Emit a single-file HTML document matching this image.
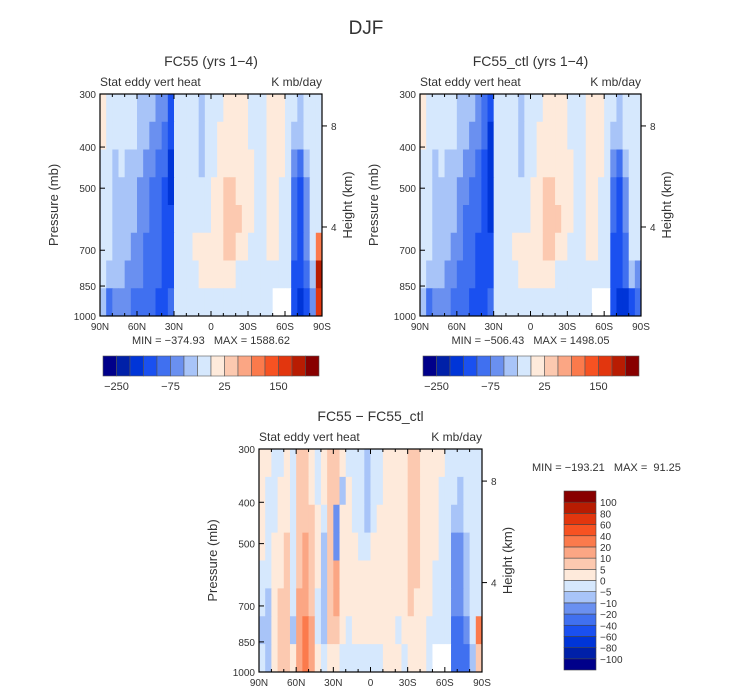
<!DOCTYPE html>
<html><head><meta charset="utf-8"><style>
body{margin:0;background:#fff;}
svg{display:block;font-family:"Liberation Sans",sans-serif;}
text{fill:#333;white-space:pre;}
</style></head><body>
<svg id="fig" width="733" height="695" viewBox="0 0 733 695">
<text x="366" y="34" font-size="19" text-anchor="middle" fill="#555">DJF</text>
</svg>
<script>
const latLabels=["90N","60N","30N","0","30S","60S","90S"];
const pTicks=[300,400,500,700,850,1000];
const hTicks=[8,4];
const topLevels=[-250,-200,-150,-100,-75,-50,-25,0,25,50,75,100,150,200,250];
const diffLevels=[-100,-80,-60,-40,-20,-10,-5,0,5,10,20,40,60,80,100];
const colors=['#00008a','#0020a8','#0035d8','#1a50f0','#4070f0','#6a90f0','#a8c4f8','#d6e8fd','#feeadb','#fcc9b0','#fba684','#fb7a4c','#f75222','#e2360e','#b81c02','#880000'];
const N=null;
const fc55=[
[10,-10,-10,-10,-10,-10,-30,-30,-30,-60,-60,-120,-10,-10,-10,-10,-30,-10,-10,-10,10,10,10,10,-10,-10,-10,10,10,10,-10,-10,-30,-10,-10,-10],
[10,-10,-10,-10,-10,-10,-30,-30,-60,-60,-80,-150,-10,-10,-10,-10,-30,-10,-10,10,10,10,10,10,-10,-10,-10,10,10,10,-10,-30,-30,-10,-10,-10],
[-10,-10,-30,-10,-30,-30,-30,-60,-60,-80,-100,-200,-10,-10,-10,-10,-30,-10,-10,10,10,10,10,10,10,-10,-10,10,10,10,-10,-60,-80,-30,-10,-10],
[-10,-10,-30,-30,-30,-30,-60,-60,-80,-80,-120,-200,-10,-10,-10,-10,-10,-10,10,10,30,30,10,10,10,-10,-10,10,10,-10,-10,-80,-120,-60,-10,-10],
[-10,-10,-30,-30,-30,-30,-60,-60,-80,-100,-120,-150,-10,-10,-10,-10,-10,-10,10,10,30,30,30,10,10,-10,-10,10,10,-10,-10,-100,-120,-60,-10,-10],
[-10,-10,-30,-30,-30,-60,-60,-80,-80,-100,-120,-120,-10,-10,-10,10,10,10,10,10,30,30,10,10,-10,-10,-10,10,10,-10,-10,-100,-150,-60,-10,80],
[-10,-30,-30,-30,-60,-60,-60,-80,-100,-100,-150,-120,-10,-10,-10,-10,10,10,10,10,10,10,-10,-10,-10,-10,-10,-10,-10,-10,-10,-120,-150,-80,-30,200],
[-30,-80,-60,-60,-60,-80,-80,-100,-100,-120,-120,-100,-10,-10,-10,-10,-10,-10,-10,-10,-10,-10,-10,-10,-10,-10,-10,-10,N,N,N,-150,-200,-150,-60,150]];
const fc55ctl=[
[10,-10,-10,-10,-10,-10,-30,-30,-30,-60,-80,-150,-10,-10,-10,-10,-30,-10,-10,-10,10,10,10,10,-10,-10,-10,10,10,10,-10,-10,-30,-10,-10,-10],
[10,-10,-10,-10,-10,-10,-30,-30,-60,-60,-100,-200,-10,-10,-10,-10,-30,-10,-10,10,10,10,10,10,-10,-10,-10,10,10,10,-10,-30,-30,-10,-10,-10],
[-10,-10,-30,-10,-30,-30,-30,-60,-60,-80,-120,-200,-10,-10,-10,-10,-30,-10,-10,10,10,10,10,10,10,-10,-10,10,10,10,-10,-60,-80,-30,-10,-10],
[-10,-10,-30,-30,-30,-30,-60,-60,-80,-100,-150,-200,-10,-10,-10,-10,-10,-10,10,10,30,30,10,10,10,-10,-10,10,10,-10,-10,-80,-120,-60,-10,-10],
[-10,-10,-30,-30,-30,-30,-60,-80,-80,-100,-150,-200,-10,-10,-10,-10,-10,-10,10,10,30,30,30,10,10,-10,-10,10,10,-10,-10,-100,-150,-60,-10,-10],
[-10,-10,-30,-30,-30,-60,-60,-80,-100,-120,-150,-150,-10,-10,-10,10,10,10,10,10,30,30,10,10,-10,-10,-10,10,10,-10,-10,-120,-150,-80,-10,-10],
[-10,-30,-30,-30,-60,-60,-80,-80,-100,-120,-150,-150,-10,-10,-10,-10,10,10,10,10,10,10,-10,-10,-10,-10,-10,-10,-10,-10,-10,-120,-150,-100,-30,-60],
[-30,-80,-60,-60,-60,-80,-80,-100,-120,-120,-150,-100,-10,-10,-10,-10,-10,-10,-10,-10,-10,-10,-10,-10,-10,-10,-10,-10,N,N,N,-150,-200,-200,-150,-80]];
const diff=[
[2,2,-2,-2,2,-2,8,8,2,-2,2,8,8,2,-2,-2,-2,-8,-2,-2,2,2,2,2,8,8,2,2,2,2,-2,-2,-2,-2,-2,-2],
[2,-2,-2,2,2,-2,8,8,2,-2,2,8,8,-8,2,-2,-2,-8,-2,-2,2,2,2,2,8,8,2,2,2,-2,-2,-2,-8,-2,-2,-2],
[2,-2,-2,2,2,-2,8,8,8,2,-2,8,-15,2,2,-2,-2,-8,-2,2,2,2,2,2,8,8,2,2,2,-2,-2,-8,-8,-2,-2,-2],
[2,-2,2,2,8,-2,8,15,8,2,-8,8,-15,2,2,2,-2,-2,2,2,2,2,2,2,8,8,2,2,2,-2,-2,-15,-15,-8,-2,-2],
[-2,-2,2,2,8,-2,8,15,8,2,-8,8,15,2,2,2,2,2,2,2,2,2,2,2,8,8,2,2,-2,-2,-2,-15,-20,-8,-2,-2],
[-2,-8,2,8,8,-2,15,15,8,-2,-8,8,15,2,2,2,2,2,2,2,2,2,2,2,8,2,2,2,-2,-2,-2,-20,-20,-8,-2,-2],
[-8,-8,2,8,8,-8,15,30,15,-2,-8,8,8,2,-2,2,2,2,2,2,2,2,-2,2,2,2,2,-2,-2,-2,-2,-30,-30,-15,-2,20],
[-2,-8,2,8,8,2,15,30,15,2,-2,2,2,-2,-2,-2,-2,-2,-2,-2,2,2,2,-2,2,2,2,-2,N,N,N,-40,-40,-30,-8,8]];

const NS='http://www.w3.org/2000/svg';
const svg=document.getElementById('fig');
function mk(tag,attrs,parent){const e=document.createElementNS(NS,tag);for(const k in attrs)e.setAttribute(k,attrs[k]);(parent||svg).appendChild(e);return e;}
function txt(x,y,s,size,anchor,parent){const t=mk('text',{x:x,y:y,'font-size':size,'text-anchor':anchor||'middle'},parent);t.textContent=s;return t;}
function colorFor(v,lv){let i=0;while(i<lv.length&&v>=lv[i])i++;return colors[i];}

function panel(x0,y0,w,h,title,data,lv,mm,name){
  const g=mk('g',{});
  
  
  const xs=lat=>x0+(90-lat)/180*w;
  const ys=p=>y0+(Math.log(p)-Math.log(300))/(Math.log(1000)-Math.log(300))*h;
  const nr=data.length,nc=data[0].length;
  const lp0=Math.log(300),lp1=Math.log(1000);
  for(let r=0;r<nr;r++)for(let c=0;c<nc;c++){
    const v=data[r][c];
    const pa=Math.exp(lp0+(lp1-lp0)*r/nr),pb=Math.exp(lp0+(lp1-lp0)*(r+1)/nr);
    const la=90-180*c/nc,lb=90-180*(c+1)/nc;
    const rc=mk('rect',{x:xs(la),y:ys(pa),width:xs(lb)-xs(la)+0.5,height:ys(pb)-ys(pa)+0.5,fill:v===null?'#fff':colorFor(v,lv)},g);
    
    
  }
  mk('rect',{x:x0,y:y0,width:w,height:h,fill:'none',stroke:'#000','stroke-width':1.2},g);
  for(let lat=90;lat>=-90;lat-=10){
    const major=lat%30===0, L=major?5:3;
    mk('line',{x1:xs(lat),x2:xs(lat),y1:y0+h,y2:y0+h-L,stroke:'#000'},g);
    mk('line',{x1:xs(lat),x2:xs(lat),y1:y0,y2:y0+L,stroke:'#000'},g);
  }
  latLabels.forEach((s,i)=>{const t=txt(xs(90-30*i),y0+h+14,s,10,'middle',g);});
  pTicks.forEach(p=>{mk('line',{x1:x0,x2:x0+5,y1:ys(p),y2:ys(p),stroke:'#000'},g);
    const t=txt(x0-4,ys(p)+4,String(p),10,'end',g);});
  hTicks.forEach(hk=>{const p=Math.exp(6.973-0.137*hk);mk('line',{x1:x0+w,x2:x0+w+5,y1:ys(p),y2:ys(p),stroke:'#000'},g);
    const t=txt(x0+w+9,ys(p)+4,String(hk),10,'start',g);});
  let t=txt(x0+w/2,y0-28,title,14,'middle',g);
  t=txt(x0,y0-8,'Stat eddy vert heat',12,'start',g);
  t=txt(x0+w,y0-8,'K mb/day',12,'end',g);
  t=txt(0,0,'Pressure (mb)',13,'middle',g);t.setAttribute('transform',`translate(${x0-42},${y0+h/2}) rotate(-90)`);
  t=txt(0,0,'Height (km)',13,'middle',g);t.setAttribute('transform',`translate(${x0+w+30},${y0+h/2}) rotate(-90)`);
  if(mm){t=txt(x0+w/2,y0+h+28,mm,11,'middle',g);}
}
function hbar(x0,y0,w,h,labels){
  const g=mk('g',{});
  
  
  const bw=w/16;
  colors.forEach((c,i)=>{mk('rect',{x:x0+i*bw,y:y0,width:bw,height:h,fill:c,stroke:'#555','stroke-width':0.6},g);});
  labels.forEach(([k,s])=>{const t=txt(x0+k*bw,y0+h+14,s,11,'middle',g);});
}
panel(100,94,222,222,'FC55 (yrs 1−4)',fc55,topLevels,'MIN = −374.93   MAX = 1588.62','panel-fc55');
panel(420,94,221,222,'FC55_ctl (yrs 1−4)',fc55ctl,topLevels,'MIN = −506.43   MAX = 1498.05','panel-fc55-ctl');
panel(259,449,223,223,'FC55 − FC55_ctl',diff,diffLevels,null,'panel-diff');
hbar(103,356,216,20,[[1,'−250'],[5,'−75'],[9,'25'],[13,'150']]);
hbar(423,356,216,20,[[1,'−250'],[5,'−75'],[9,'25'],[13,'150']]);
let mmt=txt(532,471,'MIN = −193.21   MAX =  91.25',11,'start');


const vg=mk('g',{});


const vx=564,vy=491,vw=32,vh=179,bh=vh/16;
colors.forEach((c,i)=>{mk('rect',{x:vx,y:vy+vh-(i+1)*bh,width:vw,height:bh,fill:c,stroke:'#444','stroke-width':0.6},vg);});
const diffLabels=['−100','−80','−60','−40','−20','−10','−5','0','5','10','20','40','60','80','100'];
diffLabels.forEach((s,i)=>{const t=txt(vx+vw+4,vy+vh-(i+1)*bh+4,s,10,'start',vg);});
</script>
</body></html>
